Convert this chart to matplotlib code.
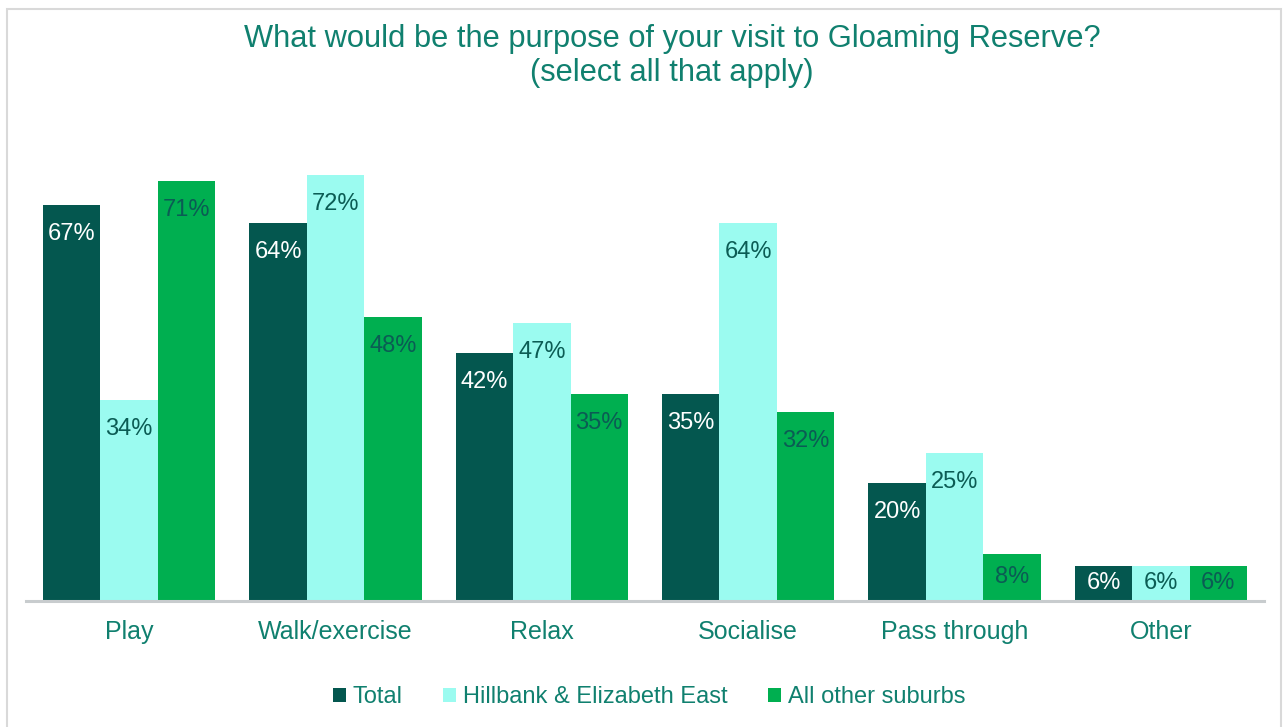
import numpy as np
import matplotlib.pyplot as plt
from matplotlib.patches import Rectangle

# Datos de la encuesta
categorias = ['Play', 'Walk/exercise', 'Relax', 'Socialise', 'Pass through', 'Other']
series = ['Total', 'Hillbank & Elizabeth East', 'All other suburbs']
total = [67, 64, 42, 35, 20, 6]
hillbank = [34, 72, 47, 64, 25, 6]
otros = [71, 48, 35, 32, 8, 6]

colores = ['#04574F', '#9BFBF0', '#00AF50']
colores_texto = ['white', '#0B5C54', '#0B5C54']
color_titulo = '#10806F'

plt.rcParams['font.family'] = ['Liberation Sans', 'DejaVu Sans']

fig = plt.figure(figsize=(12.87, 7.27), dpi=100)
ax = fig.add_axes([26 / 1287, 126 / 727, 1238 / 1287, 473 / 727])

x = np.arange(len(categorias))
ancho = 0.278
for i, (vals, nombre) in enumerate(zip([total, hillbank, otros], series)):
    barras = ax.bar(x + (i - 1) * ancho, vals, ancho, color=colores[i], label=nombre)
    for b, v in zip(barras, vals):
        # etiqueta dentro del extremo de la barra, centrada si la barra es corta
        y_etq = max(v - 4.9, v / 2)
        ax.text(b.get_x() + b.get_width() / 2, y_etq, f'{v}%', ha='center', va='center',
                fontsize=17, color=colores_texto[i])

ax.set_xlim(-0.5, len(categorias) - 0.5)
ax.set_ylim(0, 80)
ax.set_xticks(x)
ax.set_xticklabels(categorias, fontsize=18, color=color_titulo)
ax.tick_params(axis='x', length=0, pad=14)
ax.set_yticks([])
for s in ['top', 'right', 'left']:
    ax.spines[s].set_visible(False)
ax.spines['bottom'].set_color('#C8CCCE')
ax.spines['bottom'].set_linewidth(2.2)

fig.text(672 / 1287, 1 - 56 / 727, 'What would be the purpose of your visit to Gloaming Reserve?\n(select all that apply)',
         ha='center', va='center', fontsize=22.2, color=color_titulo, linespacing=1.15)

ax.legend(loc='center', bbox_to_anchor=(649 / 1287, 30 / 727), bbox_transform=fig.transFigure,
          ncol=3, frameon=False, fontsize=17, handlelength=0.55, handleheight=0.55,
          handletextpad=0.3, columnspacing=1.7, labelcolor=color_titulo)

# Marco del gráfico
fig.patches.append(Rectangle((7 / 1287, -0.02), 1274 / 1287, 1.0 - 9 / 727 + 0.02,
                             transform=fig.transFigure, fill=False,
                             edgecolor='#D9D9D9', linewidth=1.5))

plt.savefig('out.png', dpi=100)
